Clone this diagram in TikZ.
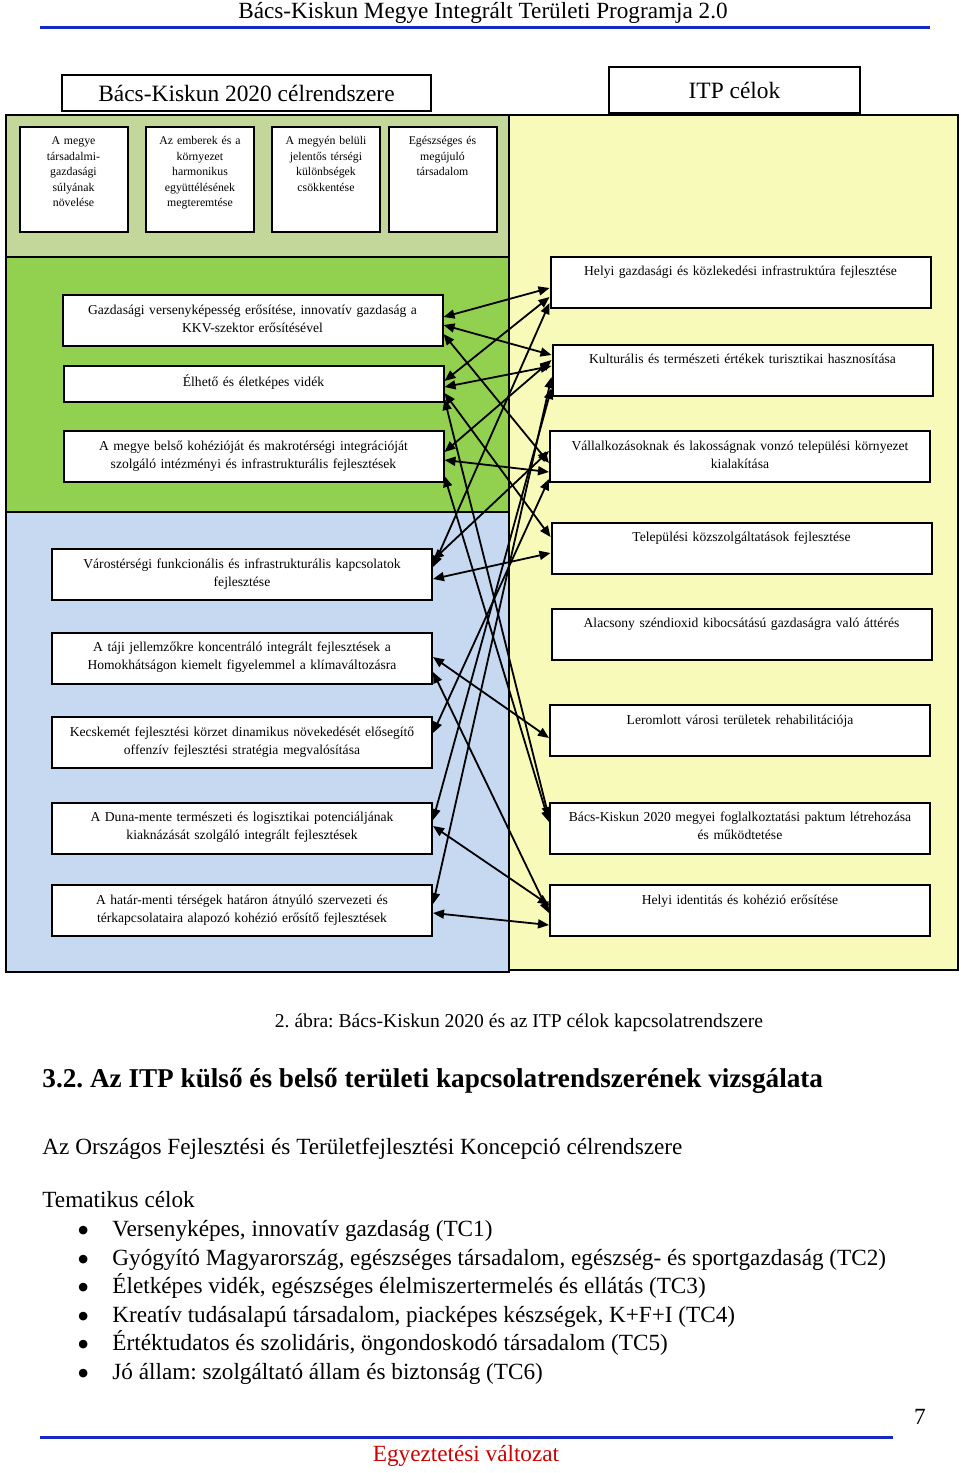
\documentclass[tikz,border=0pt]{standalone}
\usepackage{fontspec}
\setmainfont{Liberation Serif}
\newfontfamily\dotfont{DejaVu Sans}
\usetikzlibrary{arrows.meta}

\definecolor{olivebg}{RGB}{196,215,155}
\definecolor{greenbg}{RGB}{146,208,80}
\definecolor{bluebg}{RGB}{198,217,241}
\definecolor{yellowbg}{RGB}{248,250,186}
\definecolor{ruleblue}{RGB}{20,40,200}
\definecolor{draftred}{RGB}{204,0,0}

\newcommand{\goalfont}{\fontsize{6.8}{9}\selectfont}
\newcommand{\aimfont}{\fontsize{5.9}{7.75}\selectfont}
\newcommand{\bodyfont}{\fontsize{11.6}{14}\selectfont}
\newcommand{\tcitem}{\makebox[17pt][l]{\raisebox{1.5pt}{\dotfont\fontsize{5.6}{6}\selectfont ●}}}

\tikzset{
  field/.style={draw, line width=0.8pt},
  titlebox/.style={draw, fill=white, line width=0.8pt, font=\fontsize{11.7}{14}\selectfont},
  aimbox/.style={draw, fill=white, line width=1pt, inner sep=0pt, text width=54pt, align=center,
    font=\aimfont, text height=8.75pt, text depth=43.75pt},
  goalbox/.style={draw, fill=white, line width=1pt, inner sep=0pt, text width=190pt, align=center,
    font=\goalfont, text height=9.5pt, text depth=16pt},
  pagetext/.style={inner sep=0pt, font=\bodyfont, text height=8pt, text depth=1.6pt},
  link/.style={arrows={Triangle[length=5.5pt,width=4.5pt]-Triangle[length=5.5pt,width=4.5pt]}, line width=0.9pt}
}

\begin{document}
\frenchspacing
\begin{tikzpicture}[x=0.5pt, y=-0.5pt]
        \useasboundingbox (0,0) rectangle (960,1473);
        % Page head
        \node[pagetext] (header) at (483,12) {Bács-Kiskun Megye Integrált Területi Programja 2.0};
        \draw[ruleblue, line width=1.5pt] (40,27) -- (930,27);
        % Fields
        \filldraw[field, fill=olivebg] (6,115) rectangle (509,257);
        \filldraw[field, fill=greenbg] (6,257) rectangle (509,512);
        \filldraw[field, fill=bluebg] (6,512) rectangle (509,972);
        \filldraw[field, fill=yellowbg] (509,115) rectangle (958,970);
        % Titles
        \node[titlebox, minimum width=184.5pt, minimum height=18pt] (bk) at (246.5,93) {Bács-Kiskun 2020 célrendszere};
        \node[titlebox, minimum width=125.5pt, minimum height=23pt] (itp) at (734.5,90) {ITP célok};
        % Nodes
        \node[aimbox] (s1) at (73.5,179.5) {A megye\\ társadalmi-\\ gazdasági\\ súlyának\\ növelése};
        \node[aimbox] (s2) at (200,179.5) {Az emberek és a\\ környezet\\ harmonikus\\ együttélésének\\ megteremtése};
        \node[aimbox] (s3) at (326,179.5) {A megyén belüli\\ jelentős térségi\\ különbségek\\ csökkentése};
        \node[aimbox] (s4) at (442.5,179.5) {Egészséges és\\ megújuló\\ társadalom};
        \node[goalbox] (l1) at (252.5,320.5) {Gazdasági versenyképesség erősítése, innovatív gazdaság a\\ KKV-szektor erősítésével};
        \node[goalbox, text height=10pt, text depth=8pt] (l2) at (253.5,384) {Élhető és életképes vidék};
        \node[goalbox] (l3) at (253.5,456.5) {A megye belső kohézióját és makrotérségi integrációját\\ szolgáló intézményi és infrastrukturális fejlesztések};
        \node[goalbox] (l4) at (242,574.5) {Várostérségi funkcionális és infrastrukturális kapcsolatok\\ fejlesztése};
        \node[goalbox] (l5) at (242,658) {A táji jellemzőkre koncentráló integrált fejlesztések a\\ Homokhátságon kiemelt figyelemmel a klímaváltozásra};
        \node[goalbox] (l6) at (242,742.5) {Kecskemét fejlesztési körzet dinamikus növekedését elősegítő\\ offenzív fejlesztési stratégia megvalósítása};
        \node[goalbox] (l7) at (242,828) {A Duna-mente természeti és logisztikai potenciáljának\\ kiaknázását szolgáló integrált fejlesztések};
        \node[goalbox] (l8) at (242,910.5) {A határ-menti térségek határon átnyúló szervezeti és\\ térkapcsolataira alapozó kohézió erősítő fejlesztések};
        \node[goalbox] (r1) at (740.5,282) {Helyi gazdasági és közlekedési infrastruktúra fejlesztése};
        \node[goalbox] (r2) at (742.5,370) {Kulturális és természeti értékek turisztikai hasznosítása};
        \node[goalbox] (r3) at (740,456.5) {Vállalkozásoknak és lakosságnak vonzó települési környezet\\ kialakítása};
        \node[goalbox] (r4) at (741.5,548) {Települési közszolgáltatások fejlesztése};
        \node[goalbox] (r5) at (741.5,634) {Alacsony széndioxid kibocsátású gazdaságra való áttérés};
        \node[goalbox] (r6) at (740,730.5) {Leromlott városi területek rehabilitációja};
        \node[goalbox] (r7) at (740,828) {Bács-Kiskun 2020 megyei foglalkoztatási paktum létrehozása\\ és működtetése};
        \node[goalbox] (r8) at (740,910.5) {Helyi identitás és kohézió erősítése};
        % Edges
        \draw[link] ([yshift=1.75pt]l1.east) -- ([yshift=-3pt]r1.west);
        \draw[link] ([yshift=-2.25pt]l1.east) -- ([yshift=7.5pt]r2.west);
        \draw[link] ([yshift=-6.75pt]l1.east) -- ([yshift=-3.25pt]r3.west);
        \draw[link] ([yshift=1.5pt]l2.east) -- ([yshift=-7.5pt]r1.west);
        \draw[link] ([yshift=-1.5pt]l2.east) -- ([yshift=2pt]r2.west);
        \draw[link] ([yshift=-4.5pt]l2.east) -- ([yshift=5.5pt]r4.west);
        \draw[link] ([yshift=-7.5pt]l2.east) -- ([yshift=5pt]r7.west);
        \draw[link] ([yshift=2.25pt]l3.east) -- ([yshift=5pt]r2.west);
        \draw[link] ([yshift=-1.75pt]l3.east) -- ([yshift=-7.75pt]r3.west);
        \draw[link] ([yshift=-9.75pt]l3.east) -- ([yshift=3pt]r7.west);
        \draw[link] ([yshift=3.75pt]l4.east) -- ([yshift=-10.5pt]r1.west);
        \draw[link] ([yshift=7.25pt]l4.east) -- ([yshift=2.75pt]r3.west);
        \draw[link] ([yshift=-2.25pt]l4.east) -- ([yshift=-2.5pt]r4.west);
        \draw[link] ([yshift=0.5pt]l5.east) -- ([yshift=-3.75pt]r6.west);
        \draw[link] ([yshift=-7pt]l5.east) -- ([yshift=-1.25pt]r8.west);
        \draw[link] ([yshift=4.75pt]l6.east) -- ([yshift=-11.25pt]r3.west);
        \draw[link] ([yshift=4pt]l7.east) -- ([yshift=-9pt]r2.west);
        \draw[link] ([yshift=1pt]l7.east) -- ([yshift=2.75pt]r8.west);
        \draw[link] ([yshift=3.25pt]l8.east) -- ([yshift=-3.5pt]r2.west);
        \draw[link] ([yshift=-1.25pt]l8.east) -- ([yshift=-7.25pt]r8.west);
        % Text below
        \node[pagetext, font=\fontsize{9.8}{12}\selectfont] (caption) at (519,1021) {2. ábra: Bács-Kiskun 2020 és az ITP célok kapcsolatrendszere};
        \node[pagetext, anchor=west, font=\fontsize{13.6}{16}\selectfont\bfseries] (heading) at (42,1081) {3.2. Az ITP külső és belső területi kapcsolatrendszerének vizsgálata};
        \node[pagetext, anchor=west] (okft) at (42,1148) {Az Országos Fejlesztési és Területfejlesztési Koncepció célrendszere};
        \node[pagetext, anchor=west] (tematikus) at (42,1201) {Tematikus célok};
        \node[pagetext, anchor=west] (tc1) at (78,1230) {\tcitem Versenyképes, innovatív gazdaság (TC1)};
        \node[pagetext, anchor=west] (tc2) at (78,1259) {\tcitem Gyógyító Magyarország, egészséges társadalom, egészség- és sportgazdaság (TC2)};
        \node[pagetext, anchor=west] (tc3) at (78,1287) {\tcitem Életképes vidék, egészséges élelmiszertermelés és ellátás (TC3)};
        \node[pagetext, anchor=west] (tc4) at (78,1316) {\tcitem Kreatív tudásalapú társadalom, piacképes készségek, K+F+I (TC4)};
        \node[pagetext, anchor=west] (tc5) at (78,1344) {\tcitem Értéktudatos és szolidáris, öngondoskodó társadalom (TC5)};
        \node[pagetext, anchor=west] (tc6) at (78,1373) {\tcitem Jó állam: szolgáltató állam és biztonság (TC6)};
        % Page foot
        \node[pagetext] (pagenum) at (920,1418) {7};
        \draw[ruleblue, line width=1.5pt] (40,1437) -- (893,1437);
        \node[pagetext, text=draftred] (draft) at (466,1455) {Egyeztetési változat};
\end{tikzpicture}
\end{document}
